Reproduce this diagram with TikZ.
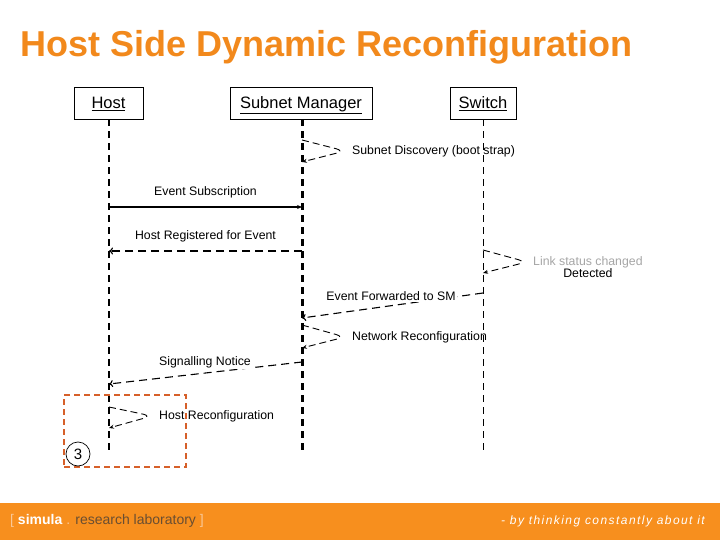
\documentclass[tikz,border=0pt]{standalone}
\usepackage{fontspec}
\setmainfont{Liberation Sans}
\newfontfamily\tagfont[LetterSpace=12]{Liberation Sans}
\usetikzlibrary{arrows.meta, positioning}

\definecolor{simorange}{RGB}{247,143,30}
\definecolor{titleorange}{RGB}{242,137,28}
\definecolor{markred}{RGB}{214,96,42}
\definecolor{footdark}{RGB}{105,78,50}
\definecolor{footlight}{RGB}{250,200,150}

\begin{document}
\begin{tikzpicture}[x=1pt, y=-1pt, font=\fontsize{12.3}{12}\selectfont,
  actor/.style={draw, line width=0.8pt, minimum height=32pt, text depth=1pt, font=\fontsize{16.5}{17}\selectfont},
  life/.style={dash pattern=on 7pt off 5pt},
  msg/.style={line width=1.1pt, -{Stealth[length=5pt,width=4pt]}},
  reply/.style={line width=1.1pt, dash pattern=on 8pt off 5pt, -{To[length=4pt,width=7pt]}},
  selfloop/.style={line width=0.9pt, dash pattern=on 7pt off 4pt, rounded corners=9pt, -{Stealth[length=5pt,width=4pt]}}]
  \useasboundingbox (0,0) rectangle (720,540);
  \fill[white] (0,0) rectangle (720,540);

  \node[anchor=base west, inner sep=0, text=titleorange, font=\fontsize{36}{40}\selectfont\bfseries] (title) at (20,57) {Host Side Dynamic Reconfiguration};

  % actors
  \node[actor, minimum width=69pt] (host) at (108.5,103) {\underline{Host}};
  \node[actor, minimum width=142pt] (sm) at (301,103) {\underline{Subnet Manager}};
  \node[actor, minimum width=66pt] (sw) at (483,103) {\underline{Switch}};

  \coordinate (hostend) at (109,452);
  \coordinate (smend) at (302,452);
  \coordinate (swend) at (483,452);
  \draw[life, line width=2pt] (host.south -| hostend) -- (hostend);
  \draw[life, line width=3pt] (sm.south -| smend) -- (smend);
  \draw[life, line width=1pt] (sw.south) -- (swend);

  % subnet discovery
  \coordinate (d1) at (302,140);
  \coordinate (d2) at (345,151);
  \coordinate (d3) at (302,162);
  \draw[selfloop] (d1) -- (d2) -- (d3);
  \node[anchor=west, inner sep=0] (disc) at (352,151) {Subnet Discovery (boot strap)};

  % subscription
  \coordinate (s1) at (109,207);
  \coordinate (s2) at (302,207);
  \draw[msg] (s1) -- node[above=8pt, inner sep=0] (subs) {Event Subscription} (s2);

  \coordinate (r1) at (302,251);
  \coordinate (r2) at (109,251);
  \draw[reply] (r1) -- node[above=8pt, inner sep=0] (reg) {Host Registered for Event} (r2);

  % link change at switch
  \coordinate (l1) at (483,250);
  \coordinate (l2) at (527,262);
  \coordinate (l3) at (483,273);
  \draw[selfloop] (l1) -- (l2) -- (l3);
  \node[anchor=west, inner sep=0, align=center] (link) at (533,267.5) {\textcolor{gray!70}{Link status changed}\\Detected};

  \coordinate (f1) at (483,293);
  \coordinate (f2) at (302,318);
  \draw[reply] (f1) -- (f2);
  \node[inner sep=1pt, fill=white] (fwd) at (391,296) {Event Forwarded to SM};

  % reconfiguration
  \coordinate (n1) at (302,325);
  \coordinate (n2) at (345,337);
  \coordinate (n3) at (302,348);
  \draw[selfloop] (n1) -- (n2) -- (n3);
  \node[anchor=west, inner sep=0] (netrec) at (352,337) {Network Reconfiguration};

  \coordinate (g1) at (302,362);
  \coordinate (g2) at (109,384);
  \draw[reply] (g1) -- (g2);
  \node[inner sep=1pt, fill=white] (sig) at (205,362) {Signalling Notice};

  \coordinate (h1) at (109,407);
  \coordinate (h2) at (152,416);
  \coordinate (h3) at (109,428);
  \draw[selfloop] (h1) -- (h2) -- (h3);
  \node[anchor=west, inner sep=0] (hostrec) at (159,416) {Host Reconfiguration};

  % step marker
  \node[draw=markred, dash pattern=on 6pt off 4pt, line width=1.5pt, minimum width=122pt, minimum height=72pt] (step3) at (125,431) {};
  \node[draw, circle, line width=0.7pt, minimum size=24pt, inner sep=0, font=\fontsize{15}{15}\selectfont] (three) at (78,454) {3};

  % footer
  \fill[simorange] (0,503) rectangle (720,540);
  \node[anchor=west, inner sep=0, font=\fontsize{14}{14}\selectfont] (lab) at (10,521)
    {\textcolor{footlight}{[} \textcolor{white}{\textbf{simula}} \textcolor{footlight}{.} \textcolor{footdark}{research laboratory} \textcolor{footlight}{]}};
  \node[anchor=east, inner sep=0, text=white, font=\fontsize{12}{12}\selectfont] (motto) at (705,521)
    {\tagfont\itshape - by thinking constantly about it};
\end{tikzpicture}
\end{document}
